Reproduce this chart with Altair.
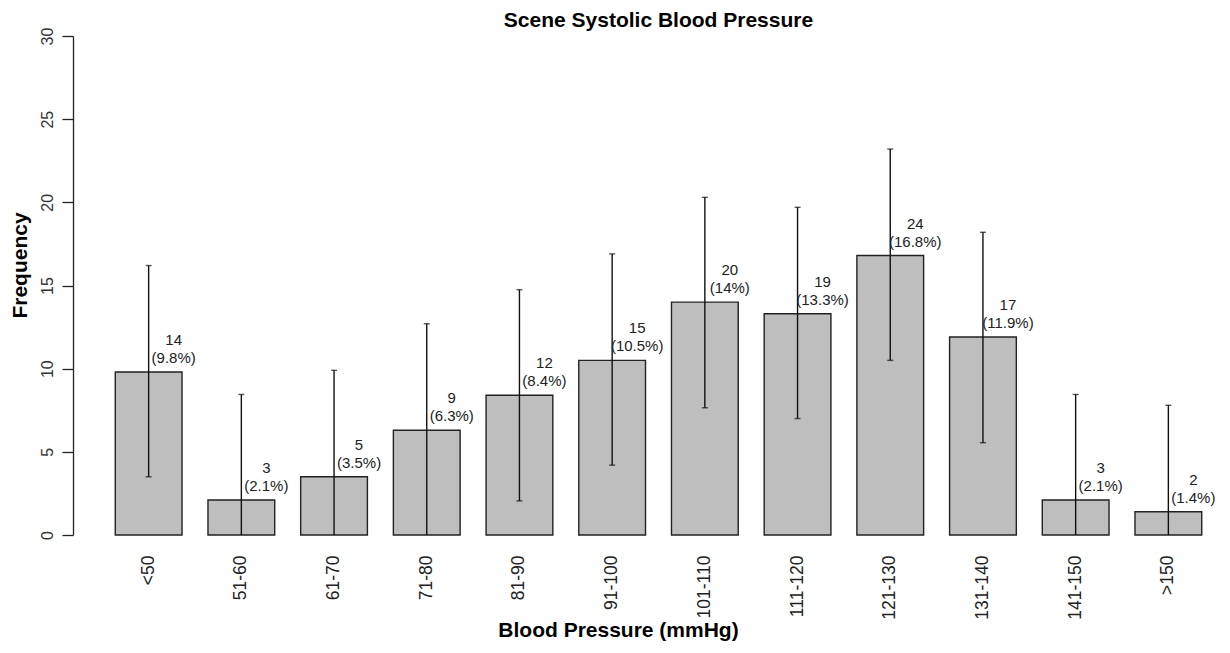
import altair as alt
import pandas as pd

categories = ["<50", "51-60", "61-70", "71-80", "81-90", "91-100",
              "101-110", "111-120", "121-130", "131-140", "141-150", ">150"]
counts = [14, 3, 5, 9, 12, 15, 20, 19, 24, 17, 3, 2]
percents = [9.8, 2.1, 3.5, 6.3, 8.4, 10.5, 14.0, 13.3, 16.8, 11.9, 2.1, 1.4]
upper = [16.2, 8.45, 9.9, 12.7, 14.75, 16.9, 20.3, 19.7, 23.2, 18.2, 8.45, 7.8]
lower = [3.5, 0.0, 0.0, 0.0, 2.05, 4.2, 7.65, 7.0, 10.5, 5.55, 0.0, 0.0]

df = pd.DataFrame({
    "cat": categories,
    "count": counts,
    "pct": percents,
    "hi": upper,
    "lo": lower,
})
df["label"] = [f"{c}\n({p:g}%)" for c, p in zip(counts, percents)]

FONT = "Liberation Sans"

xenc = alt.X(
    "cat:N",
    sort=categories,
    scale=alt.Scale(paddingInner=0.28, paddingOuter=0.1),
    axis=alt.Axis(
        title="Blood Pressure (mmHg)",
        labelAngle=-90,
        labelAlign="right",
        labelBaseline="middle",
        labelPadding=20,
        labelFontSize=17.5,
        labelColor="#222",
        labelFont=FONT,
        domain=False,
        ticks=False,
        titleFont=FONT,
        titleFontSize=21,
        titleFontWeight="bold",
        titleColor="#000",
        titleX=512,
        titleY=101,
        titleAlign="center",
        titleBaseline="alphabetic",
        labelOverlap=False,
    ),
)

yscale = alt.Scale(domain=[0, 30], nice=False, zero=True)
yaxis = alt.Axis(
    title="Frequency",
    values=[0, 5, 10, 15, 20, 25, 30],
    offset=33,
    grid=False,
    tickSize=11,
    tickColor="#222",
    domainColor="#222",
    domainWidth=1.3,
    tickWidth=1.3,
    labelAngle=-90,
    labelAlign="center",
    labelBaseline="alphabetic",
    labelPadding=10,
    labelFontSize=16,
    labelColor="#333",
    labelFont=FONT,
    titleFont=FONT,
    titleFontSize=21,
    titleFontWeight="bold",
    titleColor="#000",
    titleAngle=-90,
    titleX=-53,
    titleY=229,
    titleAlign="center",
    titleBaseline="middle",
)

base = alt.Chart(df)

bars = base.mark_bar(color="#BEBEBE", stroke="#222", strokeWidth=1.4).encode(
    x=xenc,
    y=alt.Y("pct:Q", scale=yscale, axis=yaxis),
)

rules = base.mark_rule(color="#111", strokeWidth=1.4).encode(
    x=alt.X("cat:N", sort=categories),
    y="lo:Q",
    y2="hi:Q",
)

top_caps = base.mark_tick(color="#111", thickness=1.4, size=6, orient="horizontal").encode(
    x=alt.X("cat:N", sort=categories),
    y="hi:Q",
)

low_caps = base.transform_filter("datum.lo > 0").mark_tick(
    color="#111", thickness=1.4, size=6, orient="horizontal"
).encode(
    x=alt.X("cat:N", sort=categories),
    y="lo:Q",
)

labels = base.mark_text(
    font=FONT, fontSize=15, color="#222", align="center", baseline="bottom",
    dx=25, dy=-24, lineBreak="\n", lineHeight=18,
).encode(
    x=alt.X("cat:N", sort=categories),
    y="pct:Q",
    text="label:N",
)

chart = alt.layer(bars, rules, top_caps, low_caps, labels).properties(
    width=1105,
    height=499,
    title=alt.TitleParams(
        "Scene Systolic Blood Pressure",
        font=FONT, fontSize=21, fontWeight="bold", color="#000",
        anchor="middle", frame="group", offset=8, dy=12,
    ),
    autosize=alt.AutoSizeParams(type="none"),
    padding={"left": 98, "top": 28, "right": 8, "bottom": 106},
).configure(background="white").configure_view(stroke=None)

chart.save("out.html", embed_options={"renderer": "svg", "actions": False})
